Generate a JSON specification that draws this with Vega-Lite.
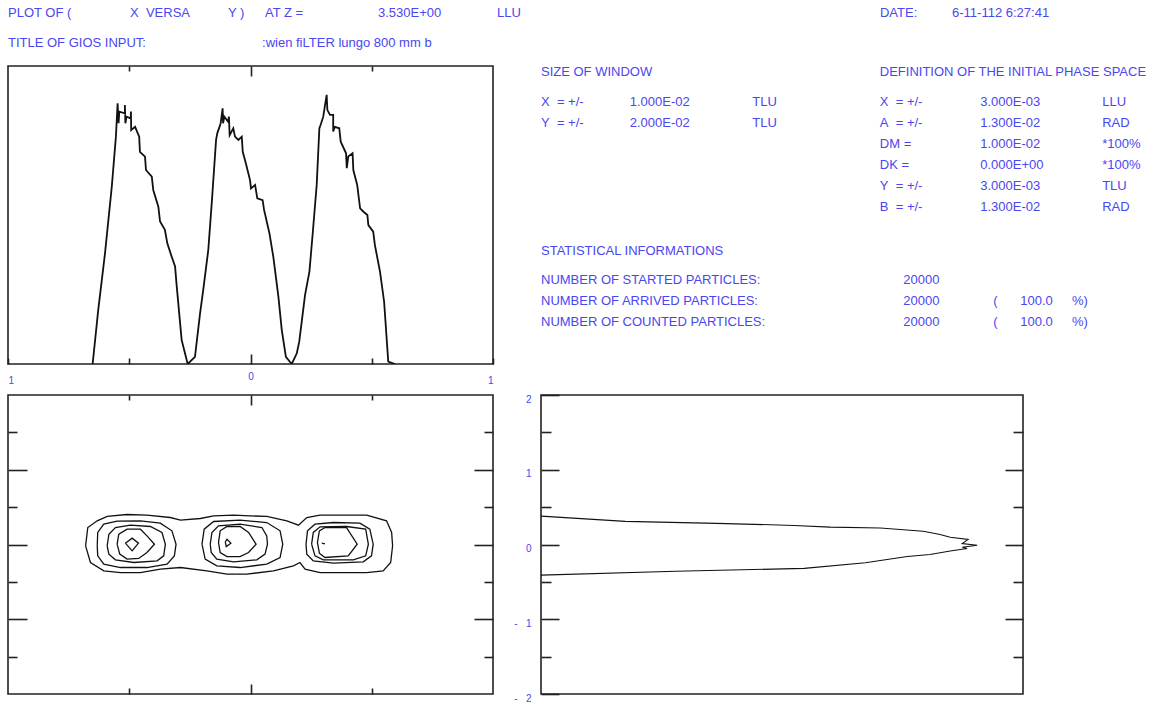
{
  "$schema": "https://vega.github.io/schema/vega-lite/v6.json",
  "padding": {"left": 6, "top": 0, "right": 0, "bottom": 0},
  "background": "white",
  "config": {
    "font": "Liberation Sans",
    "axis": {"domain": false, "grid": false, "title": null, "labelFont": "Liberation Sans", "labelFontSize": 10, "labelColor": "#4a46f0", "tickColor": "#222", "tickWidth": 1.6}
  },
  "datasets": {
    "header": [
      {"text": "PLOT OF (", "col": 0, "line": 0},
      {"text": "X\u00a0\u00a0VERSA", "col": 10.62, "line": 0},
      {"text": "Y )", "col": 19.15, "line": 0},
      {"text": "AT Z =", "col": 22.37, "line": 0},
      {"text": "3.530E+00", "col": 32.2, "line": 0},
      {"text": "LLU", "col": 42.56, "line": 0},
      {"text": "DATE:", "col": 75.89, "line": 0},
      {"text": "6-11-112 6:27:41", "col": 82.16, "line": 0},
      {"text": "TITLE OF GIOS INPUT:", "col": 0, "line": 1},
      {"text": ":wien fiLTER lungo 800 mm b", "col": 22.11, "line": 1}
    ],
    "block": [
      {"text": "SIZE OF WINDOW", "col": 0, "line": 0},
      {"text": "DEFINITION OF THE INITIAL PHASE SPACE", "col": 55.0, "line": 0},
      {"text": "X\u00a0\u00a0=\u00a0+/-", "col": 0, "line": 1.4},
      {"text": "1.000E-02", "col": 14.4, "line": 1.4},
      {"text": "TLU", "col": 34.3, "line": 1.4},
      {"text": "Y\u00a0\u00a0=\u00a0+/-", "col": 0, "line": 2.4},
      {"text": "2.000E-02", "col": 14.4, "line": 2.4},
      {"text": "TLU", "col": 34.3, "line": 2.4},
      {"text": "X\u00a0\u00a0=\u00a0+/-", "col": 55.0, "line": 1.4},
      {"text": "3.000E-03", "col": 71.3, "line": 1.4},
      {"text": "LLU", "col": 91.1, "line": 1.4},
      {"text": "A\u00a0\u00a0=\u00a0+/-", "col": 55.0, "line": 2.4},
      {"text": "1.300E-02", "col": 71.3, "line": 2.4},
      {"text": "RAD", "col": 91.1, "line": 2.4},
      {"text": "DM =", "col": 55.0, "line": 3.4},
      {"text": "1.000E-02", "col": 71.3, "line": 3.4},
      {"text": "*100%", "col": 91.1, "line": 3.4},
      {"text": "DK =", "col": 55.0, "line": 4.4},
      {"text": "0.000E+00", "col": 71.3, "line": 4.4},
      {"text": "*100%", "col": 91.1, "line": 4.4},
      {"text": "Y\u00a0\u00a0=\u00a0+/-", "col": 55.0, "line": 5.4},
      {"text": "3.000E-03", "col": 71.3, "line": 5.4},
      {"text": "TLU", "col": 91.1, "line": 5.4},
      {"text": "B\u00a0\u00a0=\u00a0+/-", "col": 55.0, "line": 6.4},
      {"text": "1.300E-02", "col": 71.3, "line": 6.4},
      {"text": "RAD", "col": 91.1, "line": 6.4},
      {"text": "STATISTICAL INFORMATIONS", "col": 0, "line": 8.5},
      {"text": "NUMBER OF STARTED PARTICLES:", "col": 0, "line": 9.9},
      {"text": "20000", "col": 58.8, "line": 9.9},
      {"text": "NUMBER OF ARRIVED PARTICLES:", "col": 0, "line": 10.9},
      {"text": "20000", "col": 58.8, "line": 10.9},
      {"text": "(", "col": 73.4, "line": 10.9},
      {"text": "100.0", "col": 77.8, "line": 10.9},
      {"text": "%)", "col": 86.2, "line": 10.9},
      {"text": "NUMBER OF COUNTED PARTICLES:", "col": 0, "line": 11.9},
      {"text": "20000", "col": 58.8, "line": 11.9},
      {"text": "(", "col": 73.4, "line": 11.9},
      {"text": "100.0", "col": 77.8, "line": 11.9},
      {"text": "%)", "col": 86.2, "line": 11.9}
    ],
    "profX": [
      {"o": 1, "x": -0.651, "y": 0}, {"o": 2, "x": -0.628, "y": 0.181}, {"o": 3, "x": -0.6, "y": 0.371}, {"o": 4, "x": -0.572, "y": 0.595},
      {"o": 5, "x": -0.555, "y": 0.763}, {"o": 6, "x": -0.548, "y": 0.875}, {"o": 7, "x": -0.544, "y": 0.808}, {"o": 8, "x": -0.541, "y": 0.847},
      {"o": 9, "x": -0.518, "y": 0.841}, {"o": 10, "x": -0.518, "y": 0.869}, {"o": 11, "x": -0.516, "y": 0.808}, {"o": 12, "x": -0.511, "y": 0.83},
      {"o": 13, "x": -0.494, "y": 0.824}, {"o": 14, "x": -0.493, "y": 0.847}, {"o": 15, "x": -0.492, "y": 0.785}, {"o": 16, "x": -0.476, "y": 0.796},
      {"o": 17, "x": -0.459, "y": 0.763}, {"o": 18, "x": -0.456, "y": 0.712}, {"o": 19, "x": -0.435, "y": 0.696}, {"o": 20, "x": -0.431, "y": 0.651},
      {"o": 21, "x": -0.407, "y": 0.629}, {"o": 22, "x": -0.401, "y": 0.584}, {"o": 23, "x": -0.38, "y": 0.528}, {"o": 24, "x": -0.373, "y": 0.478},
      {"o": 25, "x": -0.353, "y": 0.45}, {"o": 26, "x": -0.343, "y": 0.405}, {"o": 27, "x": -0.325, "y": 0.36}, {"o": 28, "x": -0.311, "y": 0.327},
      {"o": 29, "x": -0.304, "y": 0.259}, {"o": 30, "x": -0.284, "y": 0.081}, {"o": 31, "x": -0.259, "y": 0}, {"o": 32, "x": -0.229, "y": 0.024},
      {"o": 33, "x": -0.208, "y": 0.17}, {"o": 34, "x": -0.195, "y": 0.248}, {"o": 35, "x": -0.174, "y": 0.383}, {"o": 36, "x": -0.158, "y": 0.561},
      {"o": 37, "x": -0.142, "y": 0.752}, {"o": 38, "x": -0.137, "y": 0.774}, {"o": 39, "x": -0.123, "y": 0.808}, {"o": 40, "x": -0.115, "y": 0.858},
      {"o": 41, "x": -0.113, "y": 0.808}, {"o": 42, "x": -0.108, "y": 0.83}, {"o": 43, "x": -0.092, "y": 0.813}, {"o": 44, "x": -0.089, "y": 0.83},
      {"o": 45, "x": -0.086, "y": 0.768}, {"o": 46, "x": -0.071, "y": 0.791}, {"o": 47, "x": -0.064, "y": 0.763}, {"o": 48, "x": -0.05, "y": 0.752},
      {"o": 49, "x": -0.036, "y": 0.763}, {"o": 50, "x": -0.032, "y": 0.712}, {"o": 51, "x": -0.019, "y": 0.673}, {"o": 52, "x": -0.002, "y": 0.617},
      {"o": 53, "x": 0.002, "y": 0.589}, {"o": 54, "x": 0.019, "y": 0.601}, {"o": 55, "x": 0.028, "y": 0.556}, {"o": 56, "x": 0.05, "y": 0.55},
      {"o": 57, "x": 0.056, "y": 0.517}, {"o": 58, "x": 0.078, "y": 0.439}, {"o": 59, "x": 0.094, "y": 0.36}, {"o": 60, "x": 0.115, "y": 0.226},
      {"o": 61, "x": 0.129, "y": 0.114}, {"o": 62, "x": 0.146, "y": 0.024}, {"o": 63, "x": 0.17, "y": 0}, {"o": 64, "x": 0.191, "y": 0.036},
      {"o": 65, "x": 0.201, "y": 0.075}, {"o": 66, "x": 0.225, "y": 0.232}, {"o": 67, "x": 0.243, "y": 0.31}, {"o": 68, "x": 0.256, "y": 0.433},
      {"o": 69, "x": 0.273, "y": 0.601}, {"o": 70, "x": 0.284, "y": 0.791}, {"o": 71, "x": 0.289, "y": 0.802}, {"o": 72, "x": 0.3, "y": 0.83},
      {"o": 73, "x": 0.314, "y": 0.903}, {"o": 74, "x": 0.317, "y": 0.852}, {"o": 75, "x": 0.328, "y": 0.836}, {"o": 76, "x": 0.341, "y": 0.836},
      {"o": 77, "x": 0.341, "y": 0.78}, {"o": 78, "x": 0.348, "y": 0.796}, {"o": 79, "x": 0.366, "y": 0.791}, {"o": 80, "x": 0.372, "y": 0.746},
      {"o": 81, "x": 0.394, "y": 0.707}, {"o": 82, "x": 0.397, "y": 0.657}, {"o": 83, "x": 0.403, "y": 0.696}, {"o": 84, "x": 0.421, "y": 0.707},
      {"o": 85, "x": 0.424, "y": 0.651}, {"o": 86, "x": 0.44, "y": 0.601}, {"o": 87, "x": 0.452, "y": 0.522}, {"o": 88, "x": 0.466, "y": 0.511},
      {"o": 89, "x": 0.482, "y": 0.5}, {"o": 90, "x": 0.486, "y": 0.466}, {"o": 91, "x": 0.506, "y": 0.444}, {"o": 92, "x": 0.513, "y": 0.399},
      {"o": 93, "x": 0.534, "y": 0.31}, {"o": 94, "x": 0.551, "y": 0.209}, {"o": 95, "x": 0.568, "y": 0.008}, {"o": 96, "x": 0.596, "y": 0}
    ],
    "profY": [
      {"o": 1, "n": 0, "y": 0.38}, {"o": 2, "n": 0.175, "y": 0.31}, {"o": 3, "n": 0.364, "y": 0.283}, {"o": 4, "n": 0.525, "y": 0.255},
      {"o": 5, "n": 0.6, "y": 0.232}, {"o": 6, "n": 0.704, "y": 0.22}, {"o": 7, "n": 0.745, "y": 0.2}, {"o": 8, "n": 0.793, "y": 0.177},
      {"o": 9, "n": 0.828, "y": 0.133}, {"o": 10, "n": 0.849, "y": 0.097}, {"o": 11, "n": 0.886, "y": 0.067}, {"o": 12, "n": 0.874, "y": 0.013},
      {"o": 13, "n": 0.905, "y": -0.009}, {"o": 14, "n": 0.874, "y": -0.036}, {"o": 15, "n": 0.884, "y": -0.053}, {"o": 16, "n": 0.849, "y": -0.087},
      {"o": 17, "n": 0.807, "y": -0.133}, {"o": 18, "n": 0.76, "y": -0.16}, {"o": 19, "n": 0.704, "y": -0.213}, {"o": 20, "n": 0.673, "y": -0.245},
      {"o": 21, "n": 0.546, "y": -0.32}, {"o": 22, "n": 0.28, "y": -0.357}, {"o": 23, "n": 0, "y": -0.41}
    ],
    "contours": [
      {"c": 1, "o": 1, "x": -0.68, "y": -0.018}, {"c": 1, "o": 2, "x": -0.671, "y": 0.227}, {"c": 1, "o": 3, "x": -0.632, "y": 0.317}, {"c": 1, "o": 4, "x": -0.591, "y": 0.375},
      {"c": 1, "o": 5, "x": -0.509, "y": 0.401}, {"c": 1, "o": 6, "x": -0.427, "y": 0.392}, {"c": 1, "o": 7, "x": -0.331, "y": 0.361}, {"c": 1, "o": 8, "x": -0.289, "y": 0.326},
      {"c": 1, "o": 9, "x": -0.207, "y": 0.348}, {"c": 1, "o": 10, "x": -0.152, "y": 0.383}, {"c": 1, "o": 11, "x": -0.07, "y": 0.392}, {"c": 1, "o": 12, "x": 0.067, "y": 0.375},
      {"c": 1, "o": 13, "x": 0.15, "y": 0.317}, {"c": 1, "o": 14, "x": 0.198, "y": 0.259}, {"c": 1, "o": 15, "x": 0.232, "y": 0.361}, {"c": 1, "o": 16, "x": 0.287, "y": 0.392},
      {"c": 1, "o": 17, "x": 0.479, "y": 0.392}, {"c": 1, "o": 18, "x": 0.561, "y": 0.317}, {"c": 1, "o": 19, "x": 0.582, "y": 0.161}, {"c": 1, "o": 20, "x": 0.586, "y": -0.018},
      {"c": 1, "o": 21, "x": 0.578, "y": -0.241}, {"c": 1, "o": 22, "x": 0.547, "y": -0.352}, {"c": 1, "o": 23, "x": 0.479, "y": -0.375}, {"c": 1, "o": 24, "x": 0.287, "y": -0.375},
      {"c": 1, "o": 25, "x": 0.225, "y": -0.33}, {"c": 1, "o": 26, "x": 0.204, "y": -0.241}, {"c": 1, "o": 27, "x": 0.177, "y": -0.285}, {"c": 1, "o": 28, "x": 0.095, "y": -0.352},
      {"c": 1, "o": 29, "x": -0.015, "y": -0.397}, {"c": 1, "o": 30, "x": -0.097, "y": -0.397}, {"c": 1, "o": 31, "x": -0.18, "y": -0.352}, {"c": 1, "o": 32, "x": -0.289, "y": -0.308},
      {"c": 1, "o": 33, "x": -0.372, "y": -0.33}, {"c": 1, "o": 34, "x": -0.454, "y": -0.375}, {"c": 1, "o": 35, "x": -0.536, "y": -0.375}, {"c": 1, "o": 36, "x": -0.605, "y": -0.352},
      {"c": 1, "o": 37, "x": -0.66, "y": -0.241}, {"c": 1, "o": 38, "x": -0.68, "y": -0.018},
      {"c": 2, "o": 1, "x": -0.632, "y": -0.018}, {"c": 2, "o": 2, "x": -0.63, "y": 0.161}, {"c": 2, "o": 3, "x": -0.605, "y": 0.272}, {"c": 2, "o": 4, "x": -0.55, "y": 0.312},
      {"c": 2, "o": 5, "x": -0.454, "y": 0.317}, {"c": 2, "o": 6, "x": -0.372, "y": 0.285}, {"c": 2, "o": 7, "x": -0.324, "y": 0.183}, {"c": 2, "o": 8, "x": -0.307, "y": 0.004},
      {"c": 2, "o": 9, "x": -0.314, "y": -0.152}, {"c": 2, "o": 10, "x": -0.344, "y": -0.263}, {"c": 2, "o": 11, "x": -0.427, "y": -0.308}, {"c": 2, "o": 12, "x": -0.536, "y": -0.308},
      {"c": 2, "o": 13, "x": -0.605, "y": -0.263}, {"c": 2, "o": 14, "x": -0.63, "y": -0.152}, {"c": 2, "o": 15, "x": -0.632, "y": -0.018},
      {"c": 3, "o": 1, "x": -0.591, "y": -0.018}, {"c": 3, "o": 2, "x": -0.584, "y": 0.138}, {"c": 3, "o": 3, "x": -0.557, "y": 0.227}, {"c": 3, "o": 4, "x": -0.495, "y": 0.259},
      {"c": 3, "o": 5, "x": -0.413, "y": 0.241}, {"c": 3, "o": 6, "x": -0.365, "y": 0.161}, {"c": 3, "o": 7, "x": -0.351, "y": 0.004}, {"c": 3, "o": 8, "x": -0.358, "y": -0.152},
      {"c": 3, "o": 9, "x": -0.385, "y": -0.219}, {"c": 3, "o": 10, "x": -0.481, "y": -0.241}, {"c": 3, "o": 11, "x": -0.557, "y": -0.205}, {"c": 3, "o": 12, "x": -0.584, "y": -0.129},
      {"c": 3, "o": 13, "x": -0.591, "y": -0.018},
      {"c": 4, "o": 1, "x": -0.55, "y": 0.004}, {"c": 4, "o": 2, "x": -0.543, "y": 0.138}, {"c": 4, "o": 3, "x": -0.509, "y": 0.205}, {"c": 4, "o": 4, "x": -0.454, "y": 0.205},
      {"c": 4, "o": 5, "x": -0.427, "y": 0.116}, {"c": 4, "o": 6, "x": -0.396, "y": 0.004}, {"c": 4, "o": 7, "x": -0.427, "y": -0.107}, {"c": 4, "o": 8, "x": -0.461, "y": -0.187},
      {"c": 4, "o": 9, "x": -0.509, "y": -0.196}, {"c": 4, "o": 10, "x": -0.539, "y": -0.129}, {"c": 4, "o": 11, "x": -0.55, "y": 0.004},
      {"c": 5, "o": 1, "x": -0.516, "y": 0.018}, {"c": 5, "o": 2, "x": -0.488, "y": 0.085}, {"c": 5, "o": 3, "x": -0.462, "y": 0.018}, {"c": 5, "o": 4, "x": -0.488, "y": -0.085},
      {"c": 5, "o": 5, "x": -0.516, "y": 0.018},
      {"c": 6, "o": 1, "x": -0.2, "y": 0.004}, {"c": 6, "o": 2, "x": -0.191, "y": 0.205}, {"c": 6, "o": 3, "x": -0.152, "y": 0.308}, {"c": 6, "o": 4, "x": -0.043, "y": 0.326},
      {"c": 6, "o": 5, "x": 0.067, "y": 0.294}, {"c": 6, "o": 6, "x": 0.122, "y": 0.183}, {"c": 6, "o": 7, "x": 0.133, "y": 0.004}, {"c": 6, "o": 8, "x": 0.122, "y": -0.174},
      {"c": 6, "o": 9, "x": 0.067, "y": -0.263}, {"c": 6, "o": 10, "x": -0.043, "y": -0.308}, {"c": 6, "o": 11, "x": -0.139, "y": -0.285}, {"c": 6, "o": 12, "x": -0.187, "y": -0.196},
      {"c": 6, "o": 13, "x": -0.2, "y": 0.004},
      {"c": 7, "o": 1, "x": -0.166, "y": 0.004}, {"c": 7, "o": 2, "x": -0.159, "y": 0.161}, {"c": 7, "o": 3, "x": -0.132, "y": 0.25}, {"c": 7, "o": 4, "x": -0.043, "y": 0.272},
      {"c": 7, "o": 5, "x": 0.047, "y": 0.227}, {"c": 7, "o": 6, "x": 0.067, "y": 0.116}, {"c": 7, "o": 7, "x": 0.07, "y": 0.004}, {"c": 7, "o": 8, "x": 0.06, "y": -0.129},
      {"c": 7, "o": 9, "x": 0.026, "y": -0.205}, {"c": 7, "o": 10, "x": -0.07, "y": -0.232}, {"c": 7, "o": 11, "x": -0.139, "y": -0.196}, {"c": 7, "o": 12, "x": -0.162, "y": -0.107},
      {"c": 7, "o": 13, "x": -0.166, "y": 0.004},
      {"c": 8, "o": 1, "x": -0.132, "y": 0.027}, {"c": 8, "o": 2, "x": -0.125, "y": 0.183}, {"c": 8, "o": 3, "x": -0.097, "y": 0.241}, {"c": 8, "o": 4, "x": -0.043, "y": 0.241},
      {"c": 8, "o": 5, "x": -0.008, "y": 0.161}, {"c": 8, "o": 6, "x": 0.023, "y": 0.004}, {"c": 8, "o": 7, "x": -0.008, "y": -0.107}, {"c": 8, "o": 8, "x": -0.043, "y": -0.161},
      {"c": 8, "o": 9, "x": -0.097, "y": -0.161}, {"c": 8, "o": 10, "x": -0.125, "y": -0.107}, {"c": 8, "o": 11, "x": -0.132, "y": 0.027},
      {"c": 9, "o": 1, "x": -0.104, "y": 0.036}, {"c": 9, "o": 2, "x": -0.097, "y": 0.071}, {"c": 9, "o": 3, "x": -0.081, "y": 0.018}, {"c": 9, "o": 4, "x": -0.1, "y": -0.027},
      {"c": 9, "o": 5, "x": -0.104, "y": 0.036},
      {"c": 10, "o": 1, "x": 0.229, "y": 0.004}, {"c": 10, "o": 2, "x": 0.235, "y": 0.183}, {"c": 10, "o": 3, "x": 0.266, "y": 0.272}, {"c": 10, "o": 4, "x": 0.342, "y": 0.294},
      {"c": 10, "o": 5, "x": 0.451, "y": 0.285}, {"c": 10, "o": 6, "x": 0.492, "y": 0.205}, {"c": 10, "o": 7, "x": 0.506, "y": 0.004}, {"c": 10, "o": 8, "x": 0.499, "y": -0.152},
      {"c": 10, "o": 9, "x": 0.465, "y": -0.232}, {"c": 10, "o": 10, "x": 0.342, "y": -0.25}, {"c": 10, "o": 11, "x": 0.259, "y": -0.219}, {"c": 10, "o": 12, "x": 0.232, "y": -0.129},
      {"c": 10, "o": 13, "x": 0.229, "y": 0.004},
      {"c": 11, "o": 1, "x": 0.252, "y": 0.004}, {"c": 11, "o": 2, "x": 0.259, "y": 0.161}, {"c": 11, "o": 3, "x": 0.287, "y": 0.236}, {"c": 11, "o": 4, "x": 0.396, "y": 0.241},
      {"c": 11, "o": 5, "x": 0.475, "y": 0.205}, {"c": 11, "o": 6, "x": 0.486, "y": 0.004}, {"c": 11, "o": 7, "x": 0.475, "y": -0.152}, {"c": 11, "o": 8, "x": 0.424, "y": -0.205},
      {"c": 11, "o": 9, "x": 0.3, "y": -0.205}, {"c": 11, "o": 10, "x": 0.266, "y": -0.152}, {"c": 11, "o": 11, "x": 0.252, "y": 0.004},
      {"c": 12, "o": 1, "x": 0.276, "y": 0.027}, {"c": 12, "o": 2, "x": 0.284, "y": 0.183}, {"c": 12, "o": 3, "x": 0.307, "y": 0.227}, {"c": 12, "o": 4, "x": 0.396, "y": 0.227},
      {"c": 12, "o": 5, "x": 0.44, "y": 0.004}, {"c": 12, "o": 6, "x": 0.403, "y": -0.152}, {"c": 12, "o": 7, "x": 0.307, "y": -0.174}, {"c": 12, "o": 8, "x": 0.284, "y": -0.116},
      {"c": 12, "o": 9, "x": 0.276, "y": 0.027},
      {"c": 13, "o": 1, "x": 0.294, "y": 0.018}, {"c": 13, "o": 2, "x": 0.307, "y": 0.009}
    ]
  },
  "bounds": "flush",
  "columns": 2,
  "spacing": {"row": 31, "column": 48},
  "concat": [
    {
      "width": 485, "height": 35,
      "view": {"stroke": null},
      "data": {"name": "header"},
      "transform": [{"filter": "datum.col < 45"}],
      "mark": {"type": "text", "align": "left", "baseline": "middle", "fontSize": 13, "color": "#4a46f0"},
      "encoding": {
        "x": {"field": "col", "type": "quantitative", "scale": {"domain": [0, 42.21], "nice": false, "zero": false}, "axis": null},
        "y": {"field": "line", "type": "quantitative", "scale": {"domain": [-0.42, 0.747], "nice": false, "zero": false, "reverse": true}, "axis": null},
        "text": {"field": "text"}
      }
    },
    {
      "width": 616, "height": 35,
      "view": {"stroke": null},
      "data": {"name": "header"},
      "transform": [{"filter": "datum.col >= 45"}],
      "mark": {"type": "text", "align": "left", "baseline": "middle", "fontSize": 13, "color": "#4a46f0"},
      "encoding": {
        "x": {"field": "col", "type": "quantitative", "scale": {"domain": [46.39, 100], "nice": false, "zero": false}, "axis": null},
        "y": {"field": "line", "type": "quantitative", "scale": {"domain": [-0.42, 0.747], "nice": false, "zero": false, "reverse": true}, "axis": null},
        "text": {"field": "text"}
      }
    },
    {
      "width": 485, "height": 298,
      "view": {"stroke": "#222", "strokeWidth": 1.6},
      "data": {"name": "profX"},
      "layer": [
        {
          "mark": {"type": "line", "color": "#111", "strokeWidth": 1.8, "clip": true},
          "encoding": {
            "x": {"field": "x", "type": "quantitative", "scale": {"domain": [-1, 1], "nice": false, "zero": false},
              "axis": {"orient": "bottom", "values": [-1, -0.5, 0, 0.5, 1], "labelFlush": true, "labelPadding": 17,
                "labelExpr": "abs(datum.value) == 0.5 ? '' : (datum.value == 0 ? '0' : '1')",
                "tickSize": {"condition": {"test": "datum.value == 0", "value": -10}, "value": -6}}},
            "y": {"field": "y", "type": "quantitative", "scale": {"domain": [0, 1], "nice": false, "zero": false}, "axis": null},
            "order": {"field": "o"}
          }
        },
        {
          "mark": {"type": "line", "opacity": 0},
          "encoding": {
            "x": {"field": "x", "type": "quantitative",
              "axis": {"orient": "top", "values": [-0.5, 0, 0.5], "labels": false,
                "tickSize": {"condition": {"test": "datum.value == 0", "value": -10}, "value": -5}}},
            "y": {"field": "y", "type": "quantitative", "axis": null},
            "order": {"field": "o"}
          }
        }
      ],
      "resolve": {"axis": {"x": "independent"}}
    },
    {
      "width": 616, "height": 298,
      "view": {"stroke": null},
      "data": {"name": "block"},
      "mark": {"type": "text", "align": "left", "baseline": "middle", "fontSize": 13, "color": "#4a46f0"},
      "encoding": {
        "x": {"field": "col", "type": "quantitative", "scale": {"domain": [0, 100], "nice": false, "zero": false}, "axis": null},
        "y": {"field": "line", "type": "quantitative", "scale": {"domain": [-0.3, 13.89], "nice": false, "zero": false, "reverse": true}, "axis": null},
        "text": {"field": "text"}
      }
    },
    {
      "width": 485, "height": 299,
      "view": {"stroke": "#222", "strokeWidth": 1.6},
      "data": {"name": "contours"},
      "layer": [
        {
          "mark": {"type": "line", "color": "#111", "strokeWidth": 1.3, "clip": true},
          "encoding": {
            "x": {"field": "x", "type": "quantitative", "scale": {"domain": [-1, 1], "nice": false, "zero": false},
              "axis": {"orient": "bottom", "values": [-0.5, 0, 0.5], "labels": false,
                "tickSize": {"condition": {"test": "datum.value == 0", "value": -10}, "value": -6}}},
            "y": {"field": "y", "type": "quantitative", "scale": {"domain": [-2, 2], "nice": false, "zero": false},
              "axis": {"orient": "left", "values": [-1.5, -1, -0.5, 0, 0.5, 1, 1.5], "labels": false,
                "tickSize": {"condition": {"test": "datum.value % 1 == 0", "value": -19}, "value": -9}}},
            "detail": {"field": "c", "type": "nominal"},
            "order": {"field": "o"}
          }
        },
        {
          "mark": {"type": "line", "opacity": 0},
          "encoding": {
            "x": {"field": "x", "type": "quantitative",
              "axis": {"orient": "top", "values": [-0.5, 0, 0.5], "labels": false,
                "tickSize": {"condition": {"test": "datum.value == 0", "value": -10}, "value": -5}}},
            "y": {"field": "y", "type": "quantitative",
              "axis": {"orient": "right", "values": [-1.5, -1, -0.5, 0, 0.5, 1, 1.5], "labels": false,
                "tickSize": {"condition": {"test": "datum.value % 1 == 0", "value": -19}, "value": -9}}},
            "detail": {"field": "c", "type": "nominal"},
            "order": {"field": "o"}
          }
        }
      ],
      "resolve": {"axis": {"x": "independent", "y": "independent"}}
    },
    {
      "width": 482, "height": 299,
      "view": {"stroke": "#222", "strokeWidth": 1.6},
      "data": {"name": "profY"},
      "layer": [
        {
          "mark": {"type": "line", "color": "#111", "strokeWidth": 1.1, "clip": true},
          "encoding": {
            "x": {"field": "n", "type": "quantitative", "scale": {"domain": [0, 1], "nice": false, "zero": false}, "axis": null},
            "y": {"field": "y", "type": "quantitative", "scale": {"domain": [-2, 2], "nice": false, "zero": false},
              "axis": {"orient": "left", "values": [-2, -1.5, -1, -0.5, 0, 0.5, 1, 1.5, 2], "labelPadding": 28, "labelOffset": 4,
                "labelExpr": "datum.value % 1 != 0 ? '' : (datum.value < 0 ? '-\u00a0\u00a0\u00a0' + abs(datum.value) : '' + datum.value)",
                "tickSize": {"condition": {"test": "datum.value % 1 == 0", "value": -18}, "value": -10}}},
            "order": {"field": "o"}
          }
        },
        {
          "mark": {"type": "line", "opacity": 0},
          "encoding": {
            "x": {"field": "n", "type": "quantitative", "axis": null},
            "y": {"field": "y", "type": "quantitative",
              "axis": {"orient": "right", "values": [-1.5, -1, -0.5, 0, 0.5, 1, 1.5], "labels": false,
                "tickSize": {"condition": {"test": "datum.value % 1 == 0", "value": -18}, "value": -10}}},
            "order": {"field": "o"}
          }
        }
      ],
      "resolve": {"axis": {"y": "independent"}}
    }
  ]
}
